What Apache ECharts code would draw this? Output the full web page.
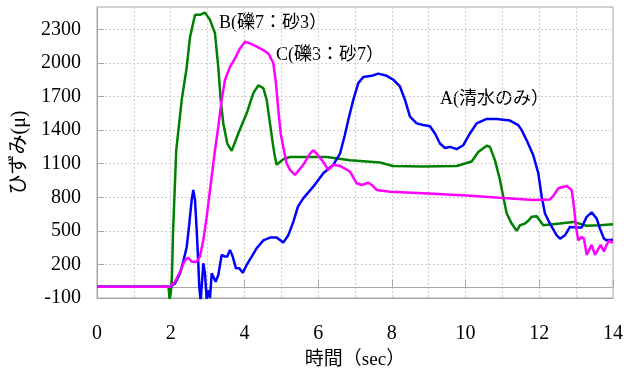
<!DOCTYPE html>
<html>
<head>
<meta charset="utf-8">
<script src="https://cdn.jsdelivr.net/npm/echarts@6/dist/echarts.min.js"></script>
<style>html,body{margin:0;padding:0;background:#fff}#c{width:638px;height:369px}</style>
</head>
<body>
<div id="c"></div>
<script>
// time (sec), strain (μ) pairs
const seriesA = [[0,0],[1.98,0],[2.116,30],[2.252,120],[2.341,225],[2.434,355],[2.504,565],[2.569,775],[2.613,865],[2.659,775],[2.705,505],[2.748,210],[2.775,0],[2.813,-130],[2.84,-130],[2.884,210],[2.93,120],[2.976,-110],[3.02,-30],[3.066,-100],[3.112,120],[3.155,135],[3.22,45],[3.291,105],[3.383,285],[3.473,270],[3.535,270],[3.608,330],[3.682,270],[3.771,165],[3.861,165],[3.953,125],[4.061,195],[4.197,270],[4.333,345],[4.512,415],[4.693,440],[4.875,440],[5.054,395],[5.19,460],[5.326,580],[5.45,715],[5.507,745],[5.597,790],[5.868,895],[6.14,1015],[6.411,1090],[6.593,1190],[6.72,1350],[6.818,1490],[6.953,1670],[7.089,1820],[7.225,1875],[7.453,1885],[7.632,1905],[7.86,1885],[8.039,1850],[8.22,1790],[8.356,1670],[8.492,1520],[8.673,1460],[8.852,1445],[9.034,1435],[9.17,1370],[9.305,1280],[9.441,1240],[9.577,1250],[9.759,1230],[9.938,1265],[10.119,1370],[10.301,1460],[10.572,1500],[10.844,1500],[11.205,1485],[11.43,1445],[11.522,1400],[11.658,1310],[11.837,1175],[11.973,1015],[12.065,805],[12.154,655],[12.29,565],[12.472,460],[12.561,430],[12.697,460],[12.832,535],[13.014,530],[13.15,530],[13.285,625],[13.421,665],[13.557,610],[13.646,520],[13.755,430],[13.828,415],[14,420]];
const seriesB = [[0,0],[1.94,0],[1.97,-110],[2.0,-60],[2.03,50],[2.062,480],[2.15,1220],[2.298,1670],[2.434,1960],[2.523,2230],[2.659,2430],[2.794,2430],[2.93,2450],[3.066,2385],[3.201,2265],[3.291,1960],[3.356,1670],[3.427,1460],[3.535,1280],[3.654,1215],[3.833,1370],[4.061,1550],[4.24,1730],[4.376,1800],[4.512,1775],[4.604,1670],[4.693,1460],[4.783,1250],[4.829,1160],[4.875,1090],[5.054,1140],[5.236,1160],[6.232,1160],[6.864,1130],[7.678,1110],[8.03,1080],[8.844,1075],[9.759,1080],[10.165,1120],[10.345,1205],[10.573,1260],[10.662,1250],[10.798,1130],[10.933,955],[11.023,805],[11.115,655],[11.251,565],[11.387,500],[11.476,550],[11.612,565],[11.701,590],[11.793,625],[11.929,630],[12.108,550],[12.561,565],[12.922,580],[13.285,545],[13.646,550],[14,560]];
const seriesC = [[0,0],[1.98,0],[2.116,45],[2.252,135],[2.388,240],[2.477,260],[2.569,225],[2.705,225],[2.794,270],[2.884,415],[2.976,625],[3.066,865],[3.155,1100],[3.201,1220],[3.291,1430],[3.383,1670],[3.473,1850],[3.608,1965],[3.744,2040],[3.88,2130],[4.015,2190],[4.151,2175],[4.333,2145],[4.512,2115],[4.647,2085],[4.783,2000],[4.856,1820],[4.919,1580],[4.984,1370],[5.054,1250],[5.147,1100],[5.236,1045],[5.372,1000],[5.597,1090],[5.779,1190],[5.868,1220],[5.961,1190],[6.14,1115],[6.275,1045],[6.411,1090],[6.593,1080],[6.864,1030],[7.046,925],[7.181,910],[7.36,930],[7.453,910],[7.588,865],[7.949,850],[8.852,835],[9.759,820],[10.03,815],[10.933,795],[11.837,775],[12.29,780],[12.398,820],[12.515,880],[12.743,900],[12.786,910],[12.879,865],[12.941,715],[12.995,535],[13.058,415],[13.15,445],[13.212,430],[13.286,285],[13.329,270],[13.421,375],[13.511,285],[13.557,270],[13.665,375],[13.755,315],[13.828,375],[13.899,415],[13.991,390]];
const seriesNames = ['A(清水のみ）', 'B(礫7：砂3）', 'C(礫3：砂7）'];
const yTicks = [-100, 200, 500, 800, 1100, 1400, 1700, 2000, 2300];
const xLabels = [0, 2, 4, 6, 8, 10, 12, 14];

const FONT = '"Liberation Serif", "Noto Sans CJK JP", serif';
const GRID_C = '#a6a6a6';
const chart = echarts.init(document.getElementById('c'));
chart.setOption({
  animation: false,
  grid: { left: 97, right: 25, top: 7, bottom: 71, show: true, borderColor: GRID_C, borderWidth: 1,
    containLabel: false, outerBoundsMode: 'none' },
  xAxis: [{
    type: 'value', min: 0, max: 14, interval: 1, position: 'bottom',
    axisLine: { onZero: false, lineStyle: { color: GRID_C } },
    axisTick: { show: false },
    axisLabel: { margin: 26, fontSize: 20, color: '#000', fontFamily: FONT,
      formatter: v => (xLabels.indexOf(v) >= 0 ? String(v) : '') },
    splitLine: { show: true, lineStyle: { color: '#d0d0d0', type: [2, 2] } },
    name: '時間（sec）', nameLocation: 'middle', nameGap: 53,
    nameTextStyle: { fontSize: 19, color: '#000', fontFamily: FONT }
  }, {
    type: 'value', min: 0, max: 14, interval: 2, position: 'bottom',
    axisLine: { onZero: true, onZeroAxisIndex: 0, lineStyle: { color: GRID_C } },
    axisTick: { inside: true, length: 7, lineStyle: { color: GRID_C } },
    axisLabel: { show: false }, splitLine: { show: false }
  }],
  yAxis: {
    type: 'value', min: -100, max: 2500,
    axisLine: { show: true, lineStyle: { color: GRID_C } },
    axisTick: { show: true, inside: true, length: 7, customValues: yTicks, lineStyle: { color: GRID_C } },
    axisLabel: { customValues: yTicks, margin: 16, fontSize: 20, color: '#000', fontFamily: FONT,
      formatter: v => String(v) },
    splitLine: { show: true, lineStyle: { color: '#d0d0d0', type: [2, 2] } },
    name: 'ひずみ(μ)', nameLocation: 'middle', nameGap: 54,
    nameTextStyle: { fontSize: 20, color: '#000', fontFamily: FONT }
  },
  series: [
    { name: seriesNames[0], type: 'line', data: seriesA, showSymbol: false, lineStyle: { color: '#0000ff', width: 2.5 }, itemStyle: { color: '#0000ff' }, z: 3 },
    { name: seriesNames[1], type: 'line', data: seriesB, showSymbol: false, lineStyle: { color: '#008000', width: 2.5 }, itemStyle: { color: '#008000' }, z: 2 },
    { name: seriesNames[2], type: 'line', data: seriesC, showSymbol: false, lineStyle: { color: '#ff00ff', width: 2.5 }, itemStyle: { color: '#ff00ff' }, z: 4 }
  ],
  graphic: [
    { type: 'text', left: 219, top: 14, style: { text: seriesNames[1], fontSize: 18, fill: '#000', fontFamily: FONT } },
    { type: 'text', left: 276, top: 46, style: { text: seriesNames[2], fontSize: 18, fill: '#000', fontFamily: FONT } },
    { type: 'text', left: 440, top: 90, style: { text: seriesNames[0], fontSize: 18, fill: '#000', fontFamily: FONT } }
  ]
});
</script>
</body>
</html>
